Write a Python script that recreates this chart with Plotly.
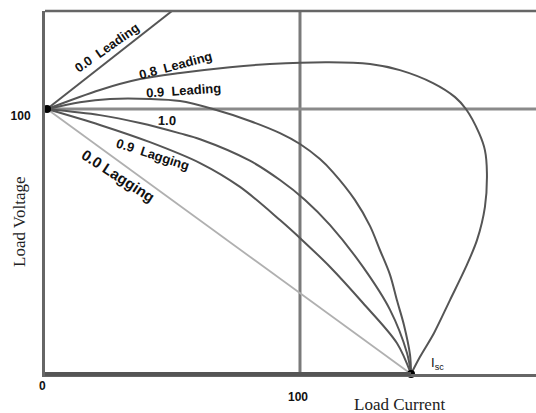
import plotly.graph_objects as go

# ---- data ----
isc = 143.9
lead00_i = [0, 49.4]
lead00_v = [100, 137.0]

lead08_i = [0, 20.9, 36.8, 52.6, 72.3, 88.1, 111.5, 127.7, 139.5, 152.6, 161.3, 165.6,
            170.8, 173.1, 173.9, 173.1, 170.0, 165.6, 159.3, 153.0, 147.4, 143.9]
lead08_v = [100, 107.2, 111.3, 113.6, 115.8, 117.0, 117.7, 117.0, 114.7, 109.8, 104.5, 100.0,
            90.9, 84.5, 75.8, 63.0, 50.6, 40.4, 27.9, 15.5, 6.4, 0]

lead09_i = [0, 13.0, 24.9, 40.7, 52.6, 65.6, 80.2, 92.1, 100, 107.9, 113.0, 121.7, 127.7, 131.6,
            135.6, 138.3, 141.1, 143.5, 143.9]
lead09_v = [100, 102.6, 103.8, 103.8, 103.0, 100.0, 95.5, 90.9, 86.8, 81.1, 76.2, 65.7, 55.8, 46.8,
            37.4, 27.9, 18.5, 7.2, 0]

unity_i = [0, 20.9, 36.8, 52.6, 60.5, 80.2, 92.1, 102.0, 111.9, 124.9, 135.6, 142.3, 143.9]
unity_v = [100, 97.7, 94.7, 90.8, 88.6, 80.5, 73.2, 65.7, 56.2, 40.4, 24.2, 7.9, 0]

lag09_i = [0, 20.9, 40.7, 60.5, 76.3, 92.1, 100.8, 111.9, 124.9, 138.3, 143.9]
lag09_v = [100, 94.0, 87.5, 79.6, 70.6, 58.1, 50.6, 40.4, 26.8, 11.7, 0]

lag00_i = [0, 143.9]
lag00_v = [100, 0]

curve_labels = ["0.0  Leading", "0.8  Leading", "0.9  Leading", "1.0", "0.9  Lagging", "0.0 Lagging"]
tick_vals = [0, 100]
tick_text = ["0", "100"]
x_title = "Load Current"
y_title = "Load Voltage"

# ---- layout / style ----
label_pos = [(23.7, 123.4, -35, 13), (50.6, 116.4, -15, 13), (53.8, 107.0, -4, 13),
             (47.4, 95.8, 2, 13), (41.9, 83.0, 18, 13), (28.1, 75.1, 33, 15)]
curve_col = "#555555"
fig = go.Figure()

def add_curve(xs, ys, color=curve_col, width=2, shape="spline"):
    fig.add_trace(go.Scatter(x=xs, y=ys, mode="lines", line=dict(color=color, width=width, shape=shape, smoothing=0.9),
                             hoverinfo="skip", showlegend=False))

# grid lines at 100
fig.add_shape(type="line", xref="x", yref="paper", x0=tick_vals[1], x1=tick_vals[1], y0=0, y1=1,
              line=dict(color="#7a7a7a", width=3), layer="below")
fig.add_shape(type="line", xref="paper", yref="y", x0=0, x1=1, y0=tick_vals[1], y1=tick_vals[1],
              line=dict(color="#8a8a8a", width=3), layer="below")
# top border
fig.add_shape(type="line", xref="paper", yref="paper", x0=0, x1=1, y0=1, y1=1,
              line=dict(color="#666666", width=2.5))
# thicker bottom segment from 0 to Isc
fig.add_shape(type="line", xref="x", yref="paper", x0=-1, x1=isc, y0=0, y1=0,
              line=dict(color="#555555", width=4))

add_curve(lag00_i, lag00_v, color="#b0b0b0", width=1.8, shape="linear")
add_curve(lead00_i, lead00_v, shape="linear")
add_curve(lead08_i, lead08_v)
add_curve(lead09_i, lead09_v)
add_curve(unity_i, unity_v)
add_curve(lag09_i, lag09_v)

fig.add_trace(go.Scatter(x=[lead00_i[0], isc], y=[lead00_v[0], 0], mode="markers",
                         marker=dict(color="black", size=8), hoverinfo="skip", showlegend=False, cliponaxis=False))

for txt, (x, y, ang, sz) in zip(curve_labels, label_pos):
    fig.add_annotation(x=x, y=y, text="<b>" + txt + "</b>", showarrow=False, textangle=ang,
                       font=dict(family="Liberation Sans, Arial", size=sz, color="#111111"))

fig.add_annotation(x=isc, y=0, text="I<sub>sc</sub>", showarrow=False, xanchor="left", yanchor="bottom",
                   xshift=18, yshift=0, font=dict(family="Liberation Sans, Arial", size=13, color="#111111"))
fig.add_annotation(x=tick_vals[0], y=0, text="<b>" + tick_text[0] + "</b>", showarrow=False,
                   xshift=-5, yshift=-12, font=dict(family="Liberation Sans, Arial", size=12, color="#111111"))
fig.add_annotation(xref="paper", yref="paper", x=(399 - 45) / 491, y=-(404 - 374) / 363, text=x_title,
                   xanchor="center", yanchor="middle", showarrow=False,
                   font=dict(family="Liberation Serif, Times New Roman", size=17, color="#222222"))
fig.add_annotation(xref="paper", yref="paper", x=-(45 - 19) / 491, y=(374 - 222) / 363, text=y_title,
                   xanchor="center", yanchor="middle", textangle=-90, showarrow=False,
                   font=dict(family="Liberation Serif, Times New Roman", size=17, color="#222222"))

fig.update_layout(
    width=536, height=413,
    margin=dict(l=45, r=0, t=11, b=39),
    plot_bgcolor="white", paper_bgcolor="white",
    xaxis=dict(range=[-0.8, 193.3], showgrid=False, zeroline=False, tickvals=[tick_vals[1]],
               ticktext=["<b>" + tick_text[1] + "</b>"], ticks="", showline=True, linecolor="#666666", linewidth=2.5,
               tickfont=dict(family="Liberation Sans, Arial", size=12, color="#111111"),
               ticklabelstandoff=10, ticklabelshift=-2, automargin=False),
    yaxis=dict(range=[0, 137], showgrid=False, zeroline=False, tickvals=[tick_vals[1]],
               ticktext=["<b>" + tick_text[1] + "</b>"], ticks="", showline=True, linecolor="#666666", linewidth=3,
               tickfont=dict(family="Liberation Sans, Arial", size=12, color="#111111"),
               ticklabelstandoff=9, ticklabelshift=7, automargin=False),
)

fig.write_html("out.html", config={"displayModeBar": False},
               post_script="document.body.style.margin='0';document.body.style.overflow='hidden';")
